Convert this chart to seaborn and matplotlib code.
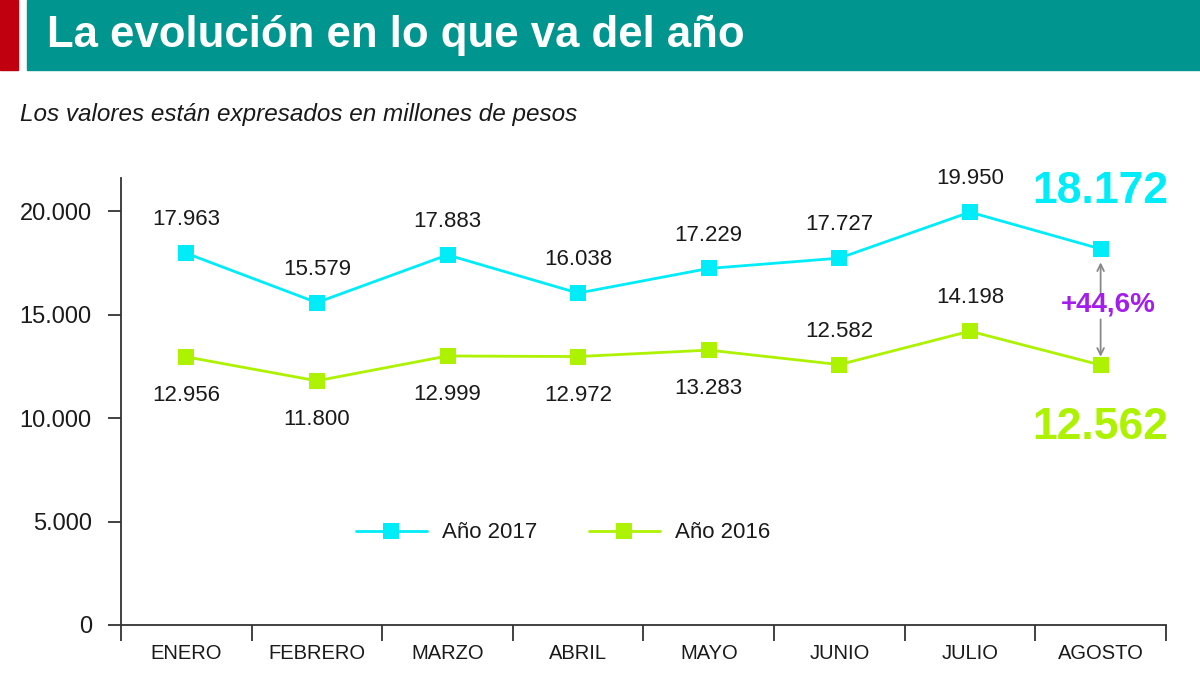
import pandas as pd
import numpy as np
import seaborn as sns
import matplotlib.pyplot as plt
from matplotlib.patches import Rectangle
from matplotlib import font_manager

months = ['ENERO', 'FEBRERO', 'MARZO', 'ABRIL', 'MAYO', 'JUNIO', 'JULIO', 'AGOSTO']
vals_2017 = [17963, 15579, 17883, 16038, 17229, 17727, 19950, 18172]
vals_2016 = [12956, 11800, 12999, 12972, 13283, 12582, 14198, 12562]
series = ['Año 2017', 'Año 2016']
y_ticks = [0, 5000, 10000, 15000, 20000]
# which 2016 labels go above the point
above_2016 = [False, False, False, False, False, True, True, False]
change_label = '+44,6%'

CYAN = '#00ECF8'
GREEN = '#ADF200'
TEAL = '#00968F'
RED = '#C0000F'
PURPLE = '#A41EEB'


def fmt(v):
    return f'{v:,.0f}'.replace(',', '.')


if __name__ == '__main__':
    sns.set_theme(style='white')
    names = {f.name for f in font_manager.fontManager.ttflist}
    narrow = 'Liberation Sans Narrow' if 'Liberation Sans Narrow' in names else 'Liberation Sans'
    plt.rcParams['font.family'] = [narrow, 'DejaVu Sans']

    df = pd.DataFrame({
        'mes': months * 2,
        'valor': vals_2017 + vals_2016,
        'serie': [series[0]] * len(months) + [series[1]] * len(months),
    })

    fig = plt.figure(figsize=(12, 6.75), dpi=100)
    ax = fig.add_axes([0.1008, 0.0741, 0.8708, 0.6622])

    sns.lineplot(data=df, x='mes', y='valor', hue='serie', style='serie',
                 palette=[CYAN, GREEN], markers=['s', 's'], dashes=False,
                 markersize=12, markeredgewidth=0, linewidth=2, ax=ax)

    ax.set_xlim(-0.5, len(months) - 0.5)
    ax.set_ylim(0, 21600)
    ax.set_xlabel('')
    ax.set_ylabel('')

    ax.set_xticks(np.arange(-0.5, len(months)))
    ax.set_xticklabels([])
    ax.set_xticks(np.arange(len(months)), minor=True)
    ax.set_xticklabels(months, minor=True, fontsize=14.5, color='#1a1a1a')
    ax.tick_params(axis='x', which='major', direction='out', length=11.5, width=1.3,
                   color='#333333', bottom=True)
    ax.tick_params(axis='x', which='minor', length=0, pad=14, bottom=True)

    ax.set_yticks(y_ticks)
    ax.set_yticklabels([fmt(v) for v in y_ticks], fontsize=17, color='#1a1a1a')
    ax.tick_params(axis='y', direction='out', length=9.5, width=1.3, color='#333333',
                   left=True, pad=11.5)

    for s in ['top', 'right']:
        ax.spines[s].set_visible(False)
    for s in ['left', 'bottom']:
        ax.spines[s].set_color('#333333')
        ax.spines[s].set_linewidth(1.3)

    # value labels
    n = len(months)
    for i in range(n - 1):
        ax.annotate(fmt(vals_2017[i]), (i, vals_2017[i]), xytext=(0, 24),
                    textcoords='offset points', ha='center', va='center',
                    fontsize=16, color='#1a1a1a')
        dy = 24 if above_2016[i] else -28
        ax.annotate(fmt(vals_2016[i]), (i, vals_2016[i]), xytext=(0, dy),
                    textcoords='offset points', ha='center', va='center',
                    fontsize=16, color='#1a1a1a')

    ax.annotate(fmt(vals_2017[-1]), (n - 1, vals_2017[-1]), xytext=(0, 41),
                textcoords='offset points', ha='center', va='center',
                fontsize=32, fontweight='bold', color=CYAN)
    ax.annotate(fmt(vals_2016[-1]), (n - 1, vals_2016[-1]), xytext=(0, -45),
                textcoords='offset points', ha='center', va='center',
                fontsize=32, fontweight='bold', color=GREEN)

    # difference arrows
    mid = (vals_2017[-1] + vals_2016[-1]) / 2
    arrow = dict(arrowstyle='->', color='#888888', lw=1.3, shrinkA=0, shrinkB=0)
    ax.annotate('', xy=(n - 1, vals_2017[-1] - 650), xytext=(n - 1, mid + 700),
                arrowprops=arrow)
    ax.annotate('', xy=(n - 1, vals_2016[-1] + 400), xytext=(n - 1, mid - 600),
                arrowprops=arrow)
    ax.text(n - 1 + 0.06, mid + 100, change_label, ha='center', va='center',
            fontsize=20, fontweight='bold', color=PURPLE)

    leg = ax.legend(loc='center', bbox_to_anchor=(0.423, 0.206), ncol=2, frameon=False,
                    fontsize=16, handlelength=3.2, handletextpad=0.7, columnspacing=2.3)
    for t in leg.get_texts():
        t.set_color('#1a1a1a')

    # header
    fig.patches.append(Rectangle((0, 1 - 70 / 675), 18 / 1200, 70 / 675,
                                 transform=fig.transFigure, color=RED, zorder=0))
    fig.patches.append(Rectangle((27 / 1200, 1 - 70 / 675), 1 - 27 / 1200, 70 / 675,
                                 transform=fig.transFigure, color=TEAL, zorder=0))
    fig.text(47 / 1200, 1 - 36 / 675, 'La evolución en lo que va del año',
             family=['Liberation Sans', 'DejaVu Sans'], fontsize=31.5, fontweight='bold',
             color='white', ha='left', va='center')
    fig.text(20 / 1200, 1 - 115 / 675, 'Los valores están expresados en millones de pesos',
             family=['Liberation Sans', 'DejaVu Sans'], fontsize=17.5, style='italic',
             color='#1a1a1a', ha='left', va='center')

    plt.savefig('out.png', dpi=100)
